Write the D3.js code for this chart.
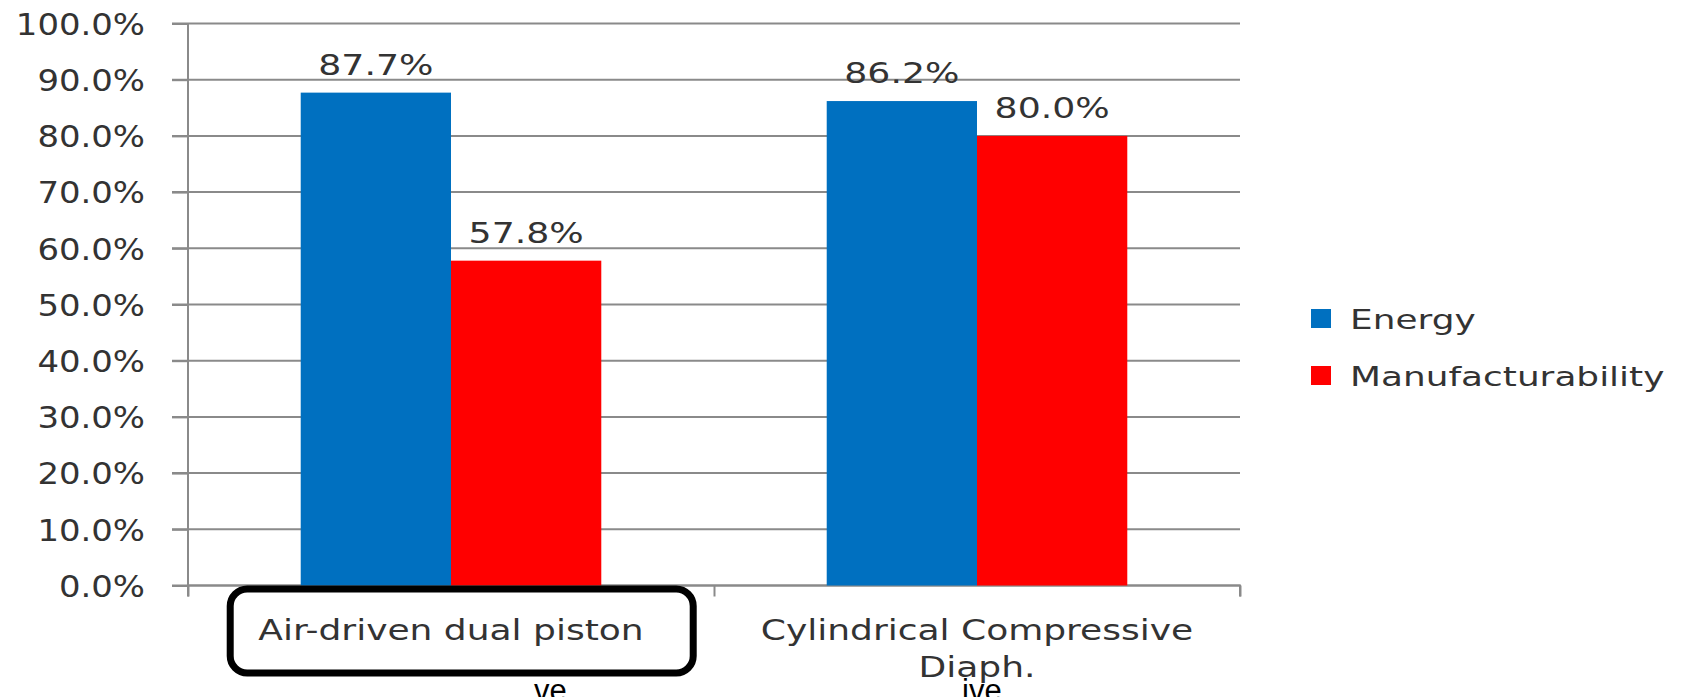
<!DOCTYPE html>
<html>
<head>
<meta charset="utf-8">
<script src="https://cdn.jsdelivr.net/npm/d3@7"></script>
<style>
  body { margin: 0; background: #fff; }
  svg { display: block; }
  text { font-family: "DejaVu Sans", Verdana, sans-serif; fill: #333; }
</style>
</head>
<body>
<svg width="1683" height="697"></svg>
<script>
// chart data
var categories = ["Air-driven dual piston", "Cylindrical Compressive Diaph."];
var categoryLines = [["Air-driven dual piston"], ["Cylindrical Compressive", "Diaph."]];
var seriesNames = ["Energy", "Manufacturability"];
var seriesColors = ["#0070c0", "#ff0000"];
var energy = [87.7, 86.2];
var manufacturability = [57.8, 80.0];
var yTicks = [0, 10, 20, 30, 40, 50, 60, 70, 80, 90, 100];
var cutText = ["ve", "ive"];   // clipped fragments at the bottom edge

var svg = d3.select("svg");

var plotLeft = 188, plotRight = 1240, plotTop = 23.5, plotBottom = 585.5;

var y = d3.scaleLinear().domain([0, 100]).range([plotBottom, plotTop]);

var x = d3.scaleBand()
    .domain(categories)
    .range([plotLeft, plotRight])
    .paddingInner(1.5 / 3.5)
    .paddingOuter(0.75 / 3.5);

var x1 = d3.scaleBand()
    .domain(seriesNames)
    .range([0, x.bandwidth()]);

var fmt = function (d) { return d3.format(".1f")(d) + "%"; };

// gridlines
svg.append("g")
    .selectAll("line")
    .data(yTicks)
    .enter()
    .append("line")
    .attr("x1", plotLeft - 16)
    .attr("x2", plotRight)
    .attr("y1", function (d) { return y(d); })
    .attr("y2", function (d) { return y(d); })
    .attr("stroke", "#8a8a8a")
    .attr("stroke-width", 2);

// y axis
var yAxis = svg.append("g")
    .attr("transform", "translate(" + plotLeft + ",0)")
    .call(d3.axisLeft(y).tickValues(yTicks).tickFormat(fmt).tickSize(16));
yAxis.select(".domain").remove();
yAxis.selectAll("line").attr("stroke", "#8a8a8a").attr("stroke-width", 2);
yAxis.selectAll("text")
    .attr("x", -38)
    .attr("dy", "0.36em")
    .attr("transform", "scale(1.13,1)")
    .style("font-size", "30px")
    .style("font-family", "DejaVu Sans")
    .attr("fill", "#333");

// vertical axis line
svg.append("line")
    .attr("x1", plotLeft).attr("x2", plotLeft)
    .attr("y1", plotTop).attr("y2", plotBottom + 11)
    .attr("stroke", "#8a8a8a").attr("stroke-width", 2);

// x axis
var xAxis = svg.append("g")
    .attr("transform", "translate(0," + plotBottom + ")")
    .call(d3.axisBottom(d3.scaleLinear().domain([0, 2]).range([plotLeft, plotRight]))
        .tickValues([0, 1, 2]).tickSize(11).tickFormat(""));
xAxis.select(".domain").attr("stroke", "#8a8a8a").attr("stroke-width", 2)
    .attr("d", "M" + plotLeft + ",0H" + plotRight + "V11");
xAxis.selectAll("line").attr("stroke", "#8a8a8a").attr("stroke-width", 2);

// bars
var rows = categories.map(function (c, i) {
    return { cat: c, values: [energy[i], manufacturability[i]] };
});

var groups = svg.append("g")
    .selectAll("g")
    .data(rows)
    .enter()
    .append("g")
    .attr("transform", function (d) { return "translate(" + x(d.cat) + ",0)"; });

groups.selectAll("rect")
    .data(function (d) { return d.values.map(function (v, j) { return { s: seriesNames[j], v: v, c: seriesColors[j] }; }); })
    .enter()
    .append("rect")
    .attr("x", function (d) { return x1(d.s); })
    .attr("width", x1.bandwidth())
    .attr("y", function (d) { return y(d.v); })
    .attr("height", function (d) { return y(0) - y(d.v); })
    .attr("fill", function (d) { return d.c; });

groups.selectAll("text")
    .data(function (d) { return d.values.map(function (v, j) { return { s: seriesNames[j], v: v }; }); })
    .enter()
    .append("text")
    .attr("transform", function (d) {
        return "translate(" + (x1(d.s) + x1.bandwidth() / 2) + "," + (y(d.v) - 18) + ") scale(1.25,1)";
    })
    .attr("text-anchor", "middle")
    .style("font-size", "29px")
    .text(function (d) { return fmt(d.v); });

// category labels
var catLabels = svg.append("g")
    .selectAll("text")
    .data(categories)
    .enter()
    .append("text")
    .attr("text-anchor", "middle")
    .style("font-size", "27.5px")
    .attr("transform", function (d) {
        return "translate(" + (x(d) + x.bandwidth() / 2) + ",640) scale(1.31,1)";
    });

catLabels.selectAll("tspan")
    .data(function (d, i) { return categoryLines[i]; })
    .enter()
    .append("tspan")
    .attr("x", 0)
    .attr("y", function (d, i) { return i * 37; })
    .text(function (d) { return d; });

// highlight box around first category
svg.append("rect")
    .attr("x", x(categories[0]) - 74 + 3.5)
    .attr("y", plotBottom + 3.5)
    .attr("width", 463)
    .attr("height", 84)
    .attr("rx", 17)
    .attr("fill", "none")
    .attr("stroke", "#000")
    .attr("stroke-width", 7);

// clipped text fragments at the bottom edge
svg.append("g")
    .selectAll("text")
    .data(cutText)
    .enter()
    .append("text")
    .attr("x", function (d, i) { return x(categories[i]) + x.bandwidth() / 2 + (i === 0 ? 83 : -15); })
    .attr("y", 701)
    .style("font-family", "Liberation Sans, Arial, sans-serif")
    .style("font-size", "31px")
    .style("fill", "#000")
    .text(function (d) { return d; });

// legend
var legend = svg.append("g")
    .selectAll("g")
    .data(seriesNames)
    .enter()
    .append("g")
    .attr("transform", function (d, i) { return "translate(1311," + (309 + i * 57) + ")"; });

legend.append("rect")
    .attr("width", 20)
    .attr("height", 19)
    .attr("fill", function (d, i) { return seriesColors[i]; });

legend.append("text")
    .attr("transform", "translate(39,20) scale(1.33,1)")
    .style("font-size", "27px")
    .text(function (d) { return d; });
</script>
</body>
</html>
